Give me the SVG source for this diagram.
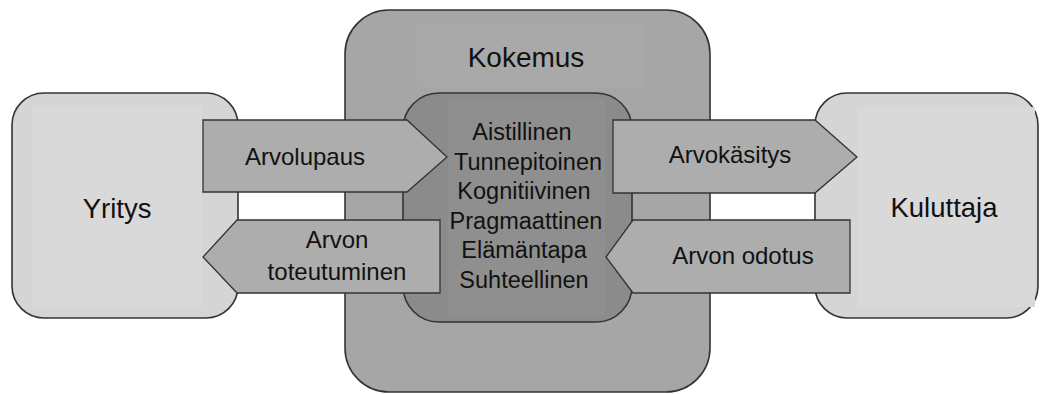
<svg xmlns="http://www.w3.org/2000/svg" width="1041" height="394" viewBox="0 0 1041 394">
<style>
text{font-family:"Liberation Sans",Arial,sans-serif;fill:#111;text-anchor:middle}
.box{stroke:#333;stroke-width:1.6}
.side{fill:#d5d5d5}
.sideIn{fill:#d9d9d9}
.outer{fill:#a6a6a6}
.inner{fill:#8b8b8b}
.arrow{fill:#adadad;stroke:#333;stroke-width:1.3}
.hl{stroke:none}
</style>
<rect width="1041" height="394" fill="#fff"/>
<g id="yritys">
<rect class="box side" x="12" y="93" width="226" height="225" rx="32"/>
<rect class="hl sideIn" x="32" y="107" width="170" height="200"/>
<text x="117" y="218" font-size="27.5">Yritys</text>
</g>
<g id="kuluttaja">
<rect class="box side" x="815" y="93" width="223" height="225" rx="32"/>
<rect class="hl sideIn" x="857" y="107" width="178" height="200"/>
<text x="944" y="217" font-size="27.5">Kuluttaja</text>
</g>
<g id="kokemus">
<rect class="box outer" x="345" y="10" width="365" height="382" rx="44"/>
<rect class="hl" fill="#a9a9a9" x="417" y="23" width="228" height="64"/>
<text x="526" y="67" font-size="28">Kokemus</text>
</g>
<g id="kokemuksen-ulottuvuudet">
<rect class="box inner" x="403" y="93" width="229" height="229" rx="36"/>
<rect class="hl" fill="#8f8f8f" x="448" y="100" width="157" height="215"/>
<g font-size="23.5">
<text x="522" y="140">Aistillinen</text>
<text x="528" y="169.6">Tunnepitoinen</text>
<text x="524" y="199.2">Kognitiivinen</text>
<text x="526" y="228.8">Pragmaattinen</text>
<text x="524" y="258.4">Elämäntapa</text>
<text x="524" y="288">Suhteellinen</text>
</g>
</g>
<g id="connectors">
<g id="arvolupaus">
<polygon class="arrow" points="203,120 407,120 447,157 407,192 203,192"/>
<text x="305" y="165" font-size="24">Arvolupaus</text>
</g>
<g id="arvon-toteutuminen">
<polygon class="arrow" points="440,220 237,220 203,257 237,293 440,293"/>
<text x="337" y="248" font-size="24">Arvon</text>
<text x="337" y="280" font-size="24">toteutuminen</text>
</g>
<g id="arvokasitys">
<polygon class="arrow" points="613,120 815,120 857,157 815,193 613,193"/>
<text x="730" y="163" font-size="24">Arvokäsitys</text>
</g>
<g id="arvon-odotus">
<polygon class="arrow" points="850,220 633,220 606,257 633,293 850,293"/>
<text x="743" y="264" font-size="24">Arvon odotus</text>
</g>
</g>
</svg>
